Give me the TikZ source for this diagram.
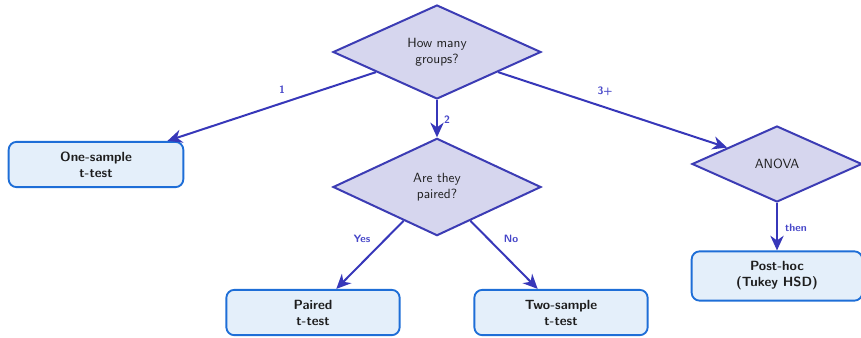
\documentclass[tikz,border=0pt]{standalone}
\usetikzlibrary{shapes.geometric,arrows.meta}
\definecolor{diafill}{RGB}{214,214,238}
\definecolor{diadraw}{RGB}{60,60,180}
\definecolor{boxfill}{RGB}{228,239,250}
\definecolor{boxdraw}{RGB}{30,110,215}
\definecolor{arrowc}{RGB}{55,55,185}
\definecolor{labelc}{RGB}{70,70,200}
\definecolor{txt}{RGB}{30,30,30}
\begin{document}
\begin{tikzpicture}[x=0.75pt,y=-0.75pt,
  decision/.style={diamond, draw=diadraw, fill=diafill, line width=1.5pt, inner sep=0pt,
    font=\sffamily, text=txt, align=center},
  result/.style={rectangle, rounded corners=6pt, draw=boxdraw, fill=boxfill, line width=1.4pt,
    font=\sffamily\bfseries, text=txt, align=center, inner sep=0pt},
  conn/.style={draw=arrowc, line width=1.5pt, -{Stealth[length=11pt,width=10pt,inset=3.5pt]}},
  lbl/.style={font=\sffamily\bfseries\footnotesize, text=labelc, inner sep=1pt}]
\useasboundingbox (0,0) rectangle (861,337);
\node[decision, minimum width=156pt, minimum height=70.5pt] (q1) at (437,52) {How many\\groups?};
\node[decision, minimum width=156pt, minimum height=73pt] (q2) at (437,187) {Are they\\paired?};
\node[decision, minimum width=127.5pt, minimum height=57pt] (anova) at (777,164) {ANOVA};
\node[result, minimum width=131pt, minimum height=34pt] (one) at (96,164.5) {One-sample\\t-test};
\node[result, minimum width=130pt, minimum height=34pt] (paired) at (313,312.5) {Paired\\t-test};
\node[result, minimum width=130pt, minimum height=34pt] (two) at (561,312.5) {Two-sample\\t-test};
\node[result, minimum width=128pt, minimum height=37pt] (posthoc) at (777,276) {Post-hoc\\(Tukey HSD)};
\draw[conn] (q1) -- (one);
\draw[conn] (q1) -- (q2);
\draw[conn] (q1) -- (anova);
\draw[conn] (q2) -- (paired);
\draw[conn] (q2) -- (two);
\draw[conn] (anova) -- (posthoc);
\node[lbl] (l1) at (282,90) {1};
\node[lbl] (l2) at (447,120) {2};
\node[lbl] (l3) at (605,91) {3+};
\node[lbl] (lyes) at (362,239) {Yes};
\node[lbl] (lno) at (511,239) {No};
\node[lbl] (lthen) at (796,228) {then};
\end{tikzpicture}
\end{document}
